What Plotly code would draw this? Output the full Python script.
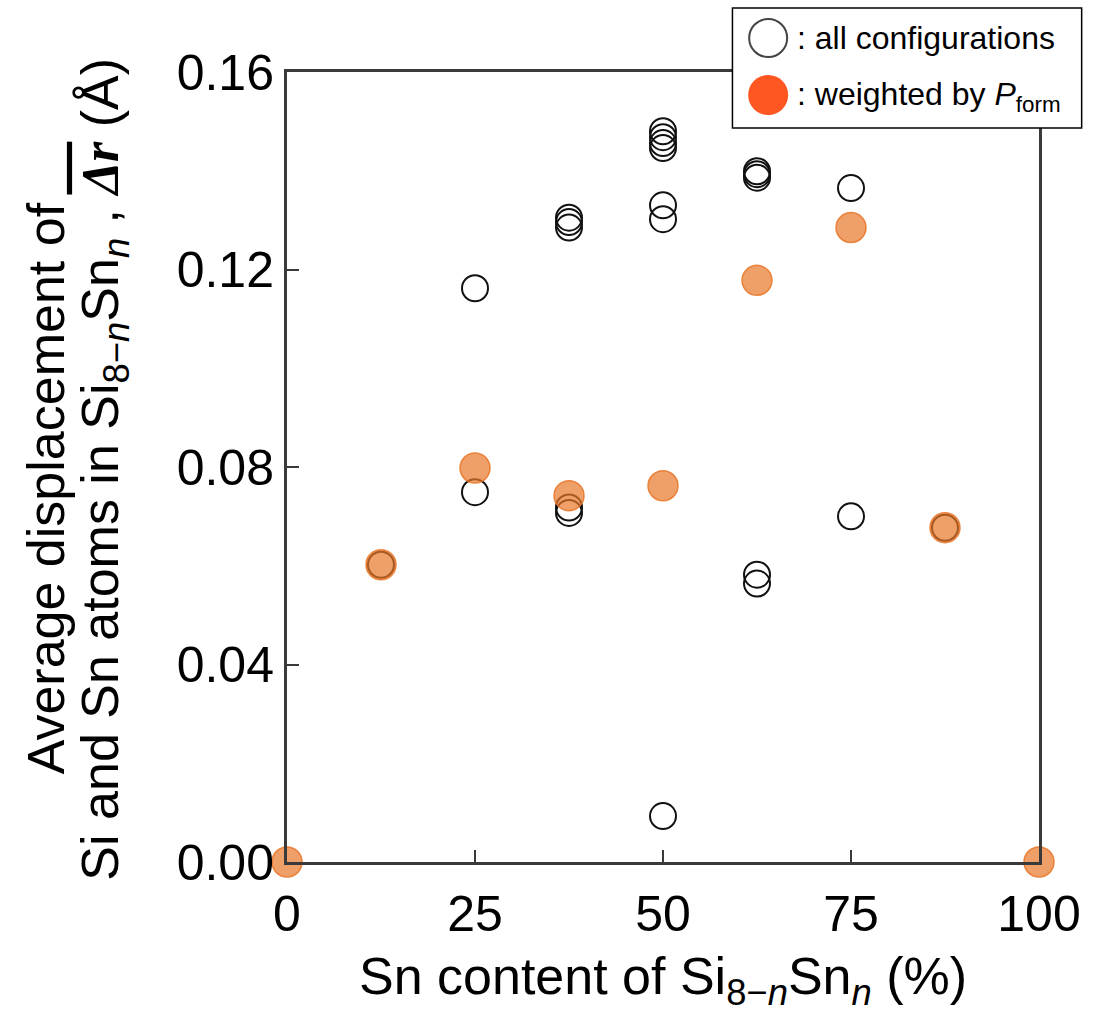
import plotly.graph_objects as go

# Sn content (%) and average displacement (Å) for every configuration
all_x = [12.5, 25, 25, 37.5, 37.5, 37.5, 37.5, 37.5,
         50, 50, 50, 50, 50, 50, 50,
         62.5, 62.5, 62.5, 62.5, 62.5, 75, 75, 87.5]
all_y = [0.0602, 0.1162, 0.0749, 0.1305, 0.1296, 0.1285, 0.0718, 0.0707,
         0.1480, 0.1468, 0.1456, 0.1446, 0.1330, 0.1302, 0.0093,
         0.1399, 0.1393, 0.1386, 0.0582, 0.0564, 0.1365, 0.0700, 0.0677]

# Formation-probability weighted averages
w_x = [0, 12.5, 25, 37.5, 50, 62.5, 75, 87.5, 100]
w_y = [0.0, 0.0602, 0.0798, 0.0742, 0.0762, 0.1178, 0.1285, 0.0677, 0.0]

x_ticks = [0, 25, 50, 75, 100]
y_ticks = [0.00, 0.04, 0.08, 0.12, 0.16]

FONT = "Liberation Sans, Arial, sans-serif"

fig = go.Figure()
fig.add_trace(go.Scatter(
    x=all_x, y=all_y, mode="markers", cliponaxis=False,
    marker=dict(symbol="circle-open", size=26, color="#111111",
                line=dict(width=2, color="#111111")),
    showlegend=False))
fig.add_trace(go.Scatter(
    x=w_x, y=w_y, mode="markers", cliponaxis=False,
    marker=dict(symbol="circle", size=30, color="rgba(232,118,40,0.70)",
                line=dict(width=1.5, color="rgba(232,118,40,0.85)")),
    showlegend=False))

axis_common = dict(showline=True, linecolor="#3a3a3a", linewidth=3, mirror=True,
                   ticks="inside", ticklen=12, tickwidth=2, tickcolor="#3a3a3a",
                   showgrid=False, zeroline=False,
                   tickfont=dict(family=FONT, size=50, color="black"))

fig.update_layout(
    width=1093, height=1021,
    margin=dict(l=287, r=48, t=72, b=159),
    paper_bgcolor="white", plot_bgcolor="white",
    xaxis=dict(range=[0, 100], tickvals=x_ticks, ticktext=[str(v) for v in x_ticks],
               ticklabelstandoff=6, **axis_common),
    yaxis=dict(range=[0, 0.16], tickvals=y_ticks,
               ticktext=[f"{v:.2f}" for v in y_ticks], **axis_common),
    showlegend=False,
)

# axis titles
fig.add_annotation(
    text="Sn content of Si<sub>8\u2212<i>n</i></sub>Sn<sub><i>n</i></sub> (%)",
    xref="paper", yref="paper", x=0.5, y=-0.149, xanchor="center", yanchor="middle",
    showarrow=False, font=dict(family=FONT, size=52, color="black"))
fig.add_annotation(
    text="Average displacement of",
    xref="paper", yref="paper", x=-0.3205, y=0.473, xanchor="center", yanchor="middle",
    textangle=-90, showarrow=False, font=dict(family=FONT, size=52, color="black"))
fig.add_annotation(
    text=("Si and Sn atoms in Si<sub>8\u2212<i>n</i></sub>Sn<sub><i>n</i></sub> , "
          "<span style=\"text-decoration:overline;font-family:Liberation Serif\">"
          "<b><i>\u0394r</i></b></span> (\u00c5)"),
    xref="paper", yref="paper", x=-0.243, y=0.497, xanchor="center", yanchor="middle",
    textangle=-90, showarrow=False, font=dict(family=FONT, size=52, color="black"))

# legend box
def px_x(p):
    return (p - 287) / 758.0

def px_y(p):
    return (862 - p) / 790.0

fig.add_shape(type="rect", xref="paper", yref="paper",
              x0=px_x(736), x1=px_x(1088), y0=px_y(128), y1=px_y(8),
              line=dict(color="black", width=1.5), fillcolor="white", layer="above")
fig.add_shape(type="circle", xref="paper", yref="paper",
              xsizemode="pixel", ysizemode="pixel",
              xanchor=px_x(772), yanchor=px_y(38), x0=-19, x1=19, y0=-19, y1=19,
              line=dict(color="#444444", width=2), fillcolor="white", layer="above")
fig.add_shape(type="circle", xref="paper", yref="paper",
              xsizemode="pixel", ysizemode="pixel",
              xanchor=px_x(772), yanchor=px_y(95), x0=-20, x1=20, y0=-20, y1=20,
              line=dict(color="#ff5722", width=0), fillcolor="#ff5722", layer="above")
fig.add_annotation(text=": all configurations", xref="paper", yref="paper",
                   x=px_x(799), y=px_y(38), xanchor="left", yanchor="middle",
                   showarrow=False, font=dict(family=FONT, size=32, color="black"))
fig.add_annotation(text=": weighted by <i>P</i><sub>form</sub>", xref="paper", yref="paper",
                   x=px_x(799), y=px_y(97), xanchor="left", yanchor="middle",
                   showarrow=False, font=dict(family=FONT, size=32, color="black"))

fig.write_html("out.html")
